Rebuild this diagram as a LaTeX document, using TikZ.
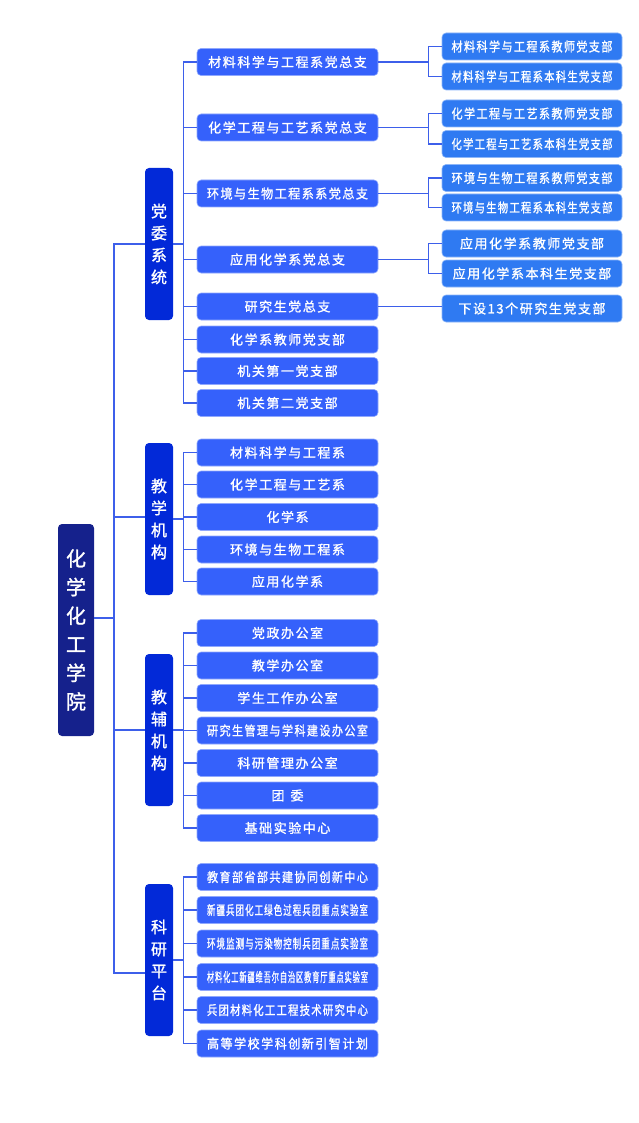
\documentclass[tikz,border=0pt]{standalone}
\usepackage{fontspec}
\setmainfont{Noto Sans CJK SC}[LetterSpace=12, BoldFont=*, BoldFeatures={FakeBold=1.3}]
\newsavebox\fitbox
\newcommand\fitw[1]{\sbox\fitbox{#1}\ifdim\wd\fitbox>161pt\resizebox{161pt}{\ht\fitbox}{\usebox\fitbox}\else\usebox\fitbox\fi}
\definecolor{navy}{HTML}{15218C}
\definecolor{deep}{HTML}{0229D8}
\definecolor{mid}{HTML}{3561FB}
\definecolor{sky}{HTML}{2F7AF2}
\definecolor{wire}{HTML}{3D5FEA}
\tikzset{
	box/.style={rounded corners=4pt, text=white, inner sep=0pt, align=center},
	root/.style={box, fill=navy, minimum width=36pt, minimum height=212pt, font=\fontsize{20}{28.6}\selectfont\bfseries},
	grp/.style={box, fill=deep, minimum width=28pt, minimum height=152pt, font=\fontsize{16}{22}\selectfont\bfseries},
	unit/.style={box, fill=mid, draw=mid!55!white, line width=0.6pt, minimum width=181pt, minimum height=27pt, font=\fontsize{13}{13}\selectfont\bfseries},
	sub/.style={unit, fill=sky, draw=sky!55!white, minimum width=180pt},
	link/.style={wire, line width=1.5pt},
}
\begin{document}
\begin{tikzpicture}[x=1pt,y=-1pt]
	\useasboundingbox (0,0) rectangle (639,1123);
	\node[root] (r) at (76,630) {化\\学\\化\\工\\学\\院};
	\node[grp] (a) at (159,244) {党\\委\\系\\统};
	\node[grp] (b) at (159,519) {教\\学\\机\\构};
	\node[grp] (c) at (159,730) {教\\辅\\机\\构};
	\node[grp] (d) at (159,960) {科\\研\\平\\台};
	\foreach \y/\t [count=\i] in {62/材料科学与工程系党总支, 127.5/化学工程与工艺系党总支, 193.5/环境与生物工程系系党总支, 259.5/应用化学系党总支, 306.5/研究生党总支, 339.5/化学系教师党支部, 371/机关第一党支部, 403/机关第二党支部}
	\node[unit] (a\i) at (287.5,\y) {\fitw{\t}};
	\foreach \y/\t [count=\i] in {452.5/材料科学与工程系, 484.5/化学工程与工艺系, 517/化学系, 549.5/环境与生物工程系, 581.5/应用化学系}
	\node[unit] (b\i) at (287.5,\y) {\fitw{\t}};
	\foreach \y/\t [count=\i] in {633/党政办公室, 665.5/教学办公室, 698/学生工作办公室, 730.5/研究生管理与学科建设办公室, 763/科研管理办公室, 795.5/团\hspace{6pt}委, 828/基础实验中心}
	\node[unit] (c\i) at (287.5,\y) {\fitw{\t}};
	\foreach \y/\t [count=\i] in {877/教育部省部共建协同创新中心, 910/新疆兵团化工绿色过程兵团重点实验室, 943.5/环境监测与污染物控制兵团重点实验室, 977/材料化工新疆维吾尔自治区教育厅重点实验室, 1010/兵团材料化工工程技术研究中心, 1043.5/高等学校学科创新引智计划}
	\node[unit] (d\i) at (287.5,\y) {\fitw{\t}};
	% party branches
	\node[sub] (t1) at (532,46.5) {\fitw{材料科学与工程系教师党支部}};
	\node[sub] (s1) at (532,76.5) {\fitw{材料科学与工程系本科生党支部}};
	\node[sub] (t2) at (532,113.5) {\fitw{化学工程与工艺系教师党支部}};
	\node[sub] (s2) at (532,144) {\fitw{化学工程与工艺系本科生党支部}};
	\node[sub] (t3) at (532,178) {\fitw{环境与生物工程系教师党支部}};
	\node[sub] (s3) at (532,207.5) {\fitw{环境与生物工程系本科生党支部}};
	\node[sub] (t4) at (532,243.5) {\fitw{应用化学系教师党支部}};
	\node[sub] (s4) at (532,273.5) {\fitw{应用化学系本科生党支部}};
	\node[sub] (t5) at (532,308.5) {\fitw{下设13个研究生党支部}};
	% main bus
	\coordinate (bj) at ([yshift=2pt]b.west);
	\coordinate (dj) at ([yshift=-13pt]d.west);
	\draw[link] ([yshift=12pt]r.east) -- ++(20,0) coordinate (m);
	\draw[link] (a.west) -- (a.west -| m) -- (m |- dj) -- (dj);
	\draw[link] (m |- bj) -- (bj);
	\draw[link] (m |- c.west) -- (c.west);
	% group buses
	\draw[link] (a.east) -- ++(11,0);
	\draw[link] (a1.west) -- ++(-13,0) |- (a8.west);
	\foreach \i in {2,...,7} \draw[link] (a\i.west) -- ++(-13,0);
	\draw[link] (b.east) -- ++(11,0);
	\draw[link] (b1.west) -- ++(-13,0) |- (b5.west);
	\foreach \i in {2,...,4} \draw[link] (b\i.west) -- ++(-13,0);
	\draw[link] (c.east) -- ++(11,0);
	\draw[link] (c1.west) -- ++(-13,0) |- (c7.west);
	\foreach \i in {2,...,6} \draw[link] (c\i.west) -- ++(-13,0);
	\draw[link] (d.east) -- ++(11,0);
	\draw[link] (d1.west) -- ++(-13,0) |- (d6.west);
	\foreach \i in {2,...,5} \draw[link] (d\i.west) -- ++(-13,0);
	% branch brackets
	\foreach \i in {1,...,4} {
		\draw[link] (a\i.east) -- ++(51,0);
		\draw[link] (t\i.west) -- ++(-13,0) |- (s\i.west);
	}
	\draw[link] (a5.east) -- (a5.east -| t5.west);
\end{tikzpicture}
\end{document}
